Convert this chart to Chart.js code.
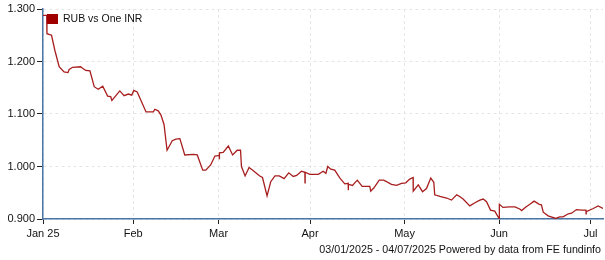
<!DOCTYPE html>
<html>
<head>
<meta charset="utf-8">
<script src="https://cdn.jsdelivr.net/npm/chart.js@4/dist/chart.umd.min.js"></script>
<style>
  html, body { margin: 0; padding: 0; background: #fff; }
  #wrap { width: 605px; height: 260px; }
</style>
</head>
<body>
<div id="wrap"><canvas id="c" width="605" height="260"></canvas></div>
<script>
// Series: day offset from 03/01/2025 and RUB value of one INR
const seriesLabel = "RUB vs One INR";
const days = [-0.6,0.6,0.7,2.2,3.3,4.7,6.3,7.6,8.0,9.1,11.7,13.4,14.8,16.2,17.5,19.0,20.6,21.6,22.0,24.6,26.0,27.4,28.5,29.2,30.3,33.2,35.6,36.1,37.2,38.1,39.1,40.1,41.8,43.0,44.3,45.9,48.7,50.0,51.8,52.8,54.4,55.8,57.2,57.25,57.3,58.5,60.2,61.6,63.1,64.2,64.5,65.7,67.0,68.4,70.5,71.4,72.9,74.1,75.5,76.9,78.5,80.0,81.5,82.6,84.2,85.3,85.35,85.4,86.9,89.7,91.3,92.2,92.8,93.8,95.1,96.8,98.4,99.5,99.55,99.6,100.9,102.5,104.1,106.6,106.9,107.9,109.7,111.2,113.7,115.4,117.0,118.4,119.7,120.8,120.85,122.5,123.9,125.2,126.6,127.6,127.9,129.6,131.8,133.4,135.1,136.1,137.2,139.4,141.1,142.7,143.8,144.9,146.2,147.6,149.0,149.1,150.3,152.5,154.2,155.8,156.4,157.8,159.1,160.5,162.2,162.9,163.5,165.1,167.6,168.9,170.0,171.7,172.8,174.4,176.1,177.5,177.55,177.6,179.9,181.5,183.1];
const values = [1.288,1.288,1.253,1.250,1.221,1.190,1.180,1.179,1.185,1.189,1.190,1.183,1.182,1.152,1.147,1.153,1.134,1.133,1.126,1.144,1.135,1.138,1.136,1.145,1.142,1.104,1.104,1.109,1.106,1.098,1.080,1.031,1.049,1.052,1.053,1.022,1.023,1.022,0.993,0.993,1.003,1.020,1.021,1.014,1.026,1.027,1.039,1.022,1.031,1.031,1.000,0.982,0.998,0.992,0.982,0.979,0.944,0.971,0.982,0.982,0.977,0.988,0.981,0.983,0.991,0.989,0.969,0.989,0.985,0.985,0.991,0.987,1.000,0.995,0.993,0.978,0.967,0.968,0.955,0.966,0.964,0.974,0.962,0.962,0.953,0.959,0.974,0.974,0.966,0.964,0.968,0.969,0.976,0.979,0.953,0.965,0.952,0.958,0.978,0.970,0.946,0.943,0.940,0.936,0.946,0.943,0.938,0.925,0.931,0.936,0.938,0.933,0.917,0.915,0.901,0.928,0.922,0.923,0.923,0.919,0.916,0.923,0.928,0.934,0.928,0.927,0.913,0.906,0.901,0.904,0.904,0.910,0.911,0.918,0.917,0.917,0.910,0.914,0.920,0.925,0.920];

// X axis ticks (day offsets) and their labels
const xTickDays = [-0.6, 29, 57, 87, 118, 149, 179];
const xTickLabels = ["Jan 25", "Feb", "Mar", "Apr", "May", "Jun", "Jul"];
// Y axis range
const yMin = 0.9, yMax = 1.3, yStep = 0.1;
const footerText = "03/01/2025 - 04/07/2025 Powered by data from FE fundinfo";

const points = days.map((d, i) => ({ x: d, y: values[i] }));

const FONT = "'Liberation Sans', Arial, sans-serif";
const AXIS_BLUE = "#4a76a6";
const GRID_GREY = "#e6e6e6";
const LINE_RED = "#a81e1e";

const overlay = {
  id: "overlay",
  afterDraw(chart) {
    const ctx = chart.ctx;
    const area = chart.chartArea;
    const ds = chart.data.datasets[0];
    ctx.save();
    // legend inside plot area
    ctx.fillStyle = "#a00000";
    ctx.fillRect(area.left + 4, 14, 11, 10);
    ctx.fillStyle = "#111";
    ctx.font = "10.5px " + FONT;
    ctx.textAlign = "left";
    ctx.textBaseline = "middle";
    ctx.fillText(ds.label, area.left + 20, 19.5);
    // footer
    ctx.font = "10.7px " + FONT;
    ctx.textAlign = "right";
    ctx.textBaseline = "middle";
    ctx.fillText(footerText, 601, 250);
    ctx.restore();
  }
};

new Chart(document.getElementById("c"), {
  type: "line",
  data: {
    datasets: [{
      label: seriesLabel,
      data: points,
      borderColor: LINE_RED,
      backgroundColor: "#a00000",
      borderWidth: 1.3,
      pointRadius: 0,
      tension: 0,
      fill: false
    }]
  },
  options: {
    responsive: false,
    animation: false,
    devicePixelRatio: 1,
    layout: { padding: { top: 9, right: 2, left: 0, bottom: 0 } },
    plugins: {
      legend: { display: false },
      tooltip: { enabled: false },
      title: { display: false }
    },
    scales: {
      x: {
        type: "linear",
        min: xTickDays[0],
        max: 183.1,
        afterFit(scale) { scale.height = 41; },
        afterBuildTicks(scale) { scale.ticks = xTickDays.map(v => ({ value: v })); },
        ticks: {
          autoSkip: false,
          maxRotation: 0,
          padding: 3,
          color: "#111",
          font: { family: FONT, size: 11 },
          callback(value) {
            const i = xTickDays.indexOf(value);
            return i >= 0 ? xTickLabels[i] : "";
          }
        },
        grid: {
          color: GRID_GREY,
          tickColor: "#222",
          tickLength: 5,
          drawTicks: true
        },
        border: { display: true, color: AXIS_BLUE, width: 1.5, dash: [3, 3] }
      },
      y: {
        min: yMin,
        max: yMax,
        afterFit(scale) { scale.width = 43; },
        ticks: {
          stepSize: yStep,
          padding: 2,
          color: "#111",
          font: { family: FONT, size: 11 },
          callback(value) { return Number(value).toFixed(3); }
        },
        grid: {
          color: GRID_GREY,
          tickColor: "#222",
          tickLength: 6,
          drawTicks: true
        },
        border: { display: true, color: AXIS_BLUE, width: 1.5, dash: [3, 3] }
      }
    }
  },
  plugins: [overlay]
});
</script>
</body>
</html>
